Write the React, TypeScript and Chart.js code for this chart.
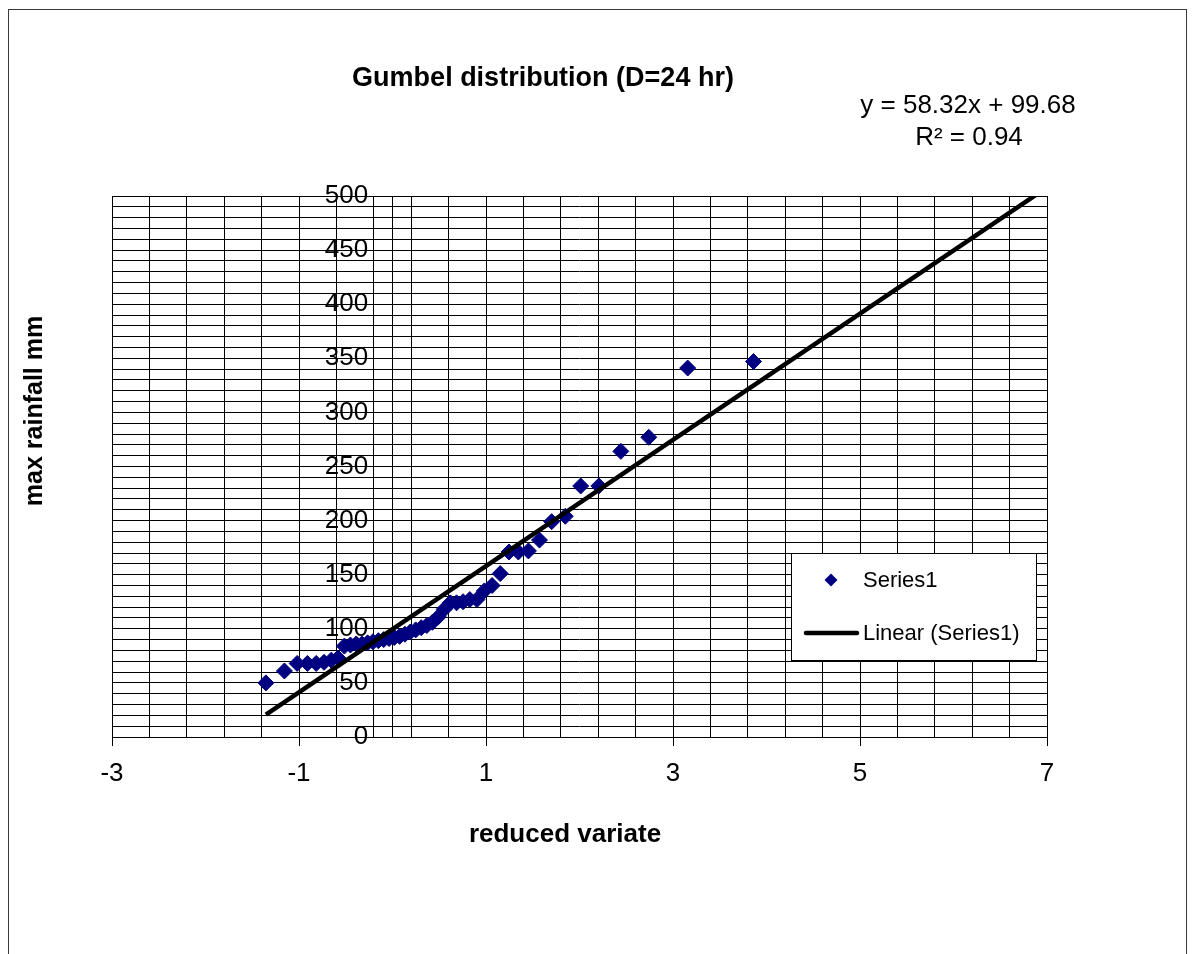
import { useEffect, useRef } from 'react';
import { Chart, registerables } from 'chart.js';

Chart.register(...registerables);

// ---- data ----
const REDUCED_VARIATE = [
  -1.354, -1.156, -1.02, -0.91, -0.816, -0.732, -0.655, -0.583, -0.515, -0.45,
  -0.388, -0.327, -0.267, -0.209, -0.151, -0.094, -0.037, 0.019, 0.076, 0.133,
  0.19, 0.248, 0.307, 0.367, 0.427, 0.489, 0.553, 0.618, 0.685, 0.755,
  0.827, 0.903, 0.982, 1.065, 1.152, 1.246, 1.346, 1.454, 1.572, 1.702,
  1.848, 2.013, 2.207, 2.442, 2.741, 3.157, 3.861,
];
const MAX_RAINFALL = [
  50, 61, 68, 68, 68, 69, 71, 73, 84, 85,
  86, 86, 87, 88, 89, 90, 91, 92, 93, 95,
  97, 99, 101, 103, 106, 111, 118, 124, 124, 125,
  127, 127, 135, 140, 151, 171, 171, 172, 182, 199,
  204, 232, 232, 264, 277, 341, 347,
];
const TREND_SLOPE = 58.32;
const TREND_INTERCEPT = 99.68;
const TREND_X_RANGE = [-1.354, 7];

const X_MIN = -3;
const X_MAX = 7;
const X_MINOR_STEP = 0.4;
const X_TICK_LABELS = [-3, -1, 1, 3, 5, 7];
const Y_MIN = 0;
const Y_MAX = 500;
const Y_MINOR_STEP = 10;
const Y_TICK_LABELS = [0, 50, 100, 150, 200, 250, 300, 350, 400, 450, 500];

const TITLE = 'Gumbel distribution (D=24 hr)';
const EQUATION_TEXT = 'y = 58.32x + 99.68';
const R2_TEXT = 'R² = 0.94';
const X_TITLE = 'reduced variate';
const Y_TITLE = 'max rainfall mm';
const SERIES_LABEL = 'Series1';
const TREND_LABEL = 'Linear (Series1)';

// ---- styles ----
const FONT = '"Liberation Sans", Arial, Helvetica, sans-serif';
const NAVY = '#000080';
const GRID = '#000000';
const CLEAR = 'rgba(0,0,0,0)';
const Y_LABEL_X = -0.26;

const near = (a: number, b: number) => Math.abs(a - b) < 1e-6;

const textPlugin = {
  id: 'gumbelText',
  afterDraw(chart: any) {
    const { ctx } = chart;
    ctx.save();
    ctx.fillStyle = '#000';
    ctx.textAlign = 'center';
    ctx.textBaseline = 'alphabetic';

    ctx.font = `bold 27px ${FONT}`;
    ctx.fillText(TITLE, 534, 76);

    ctx.font = `26px ${FONT}`;
    ctx.fillText(EQUATION_TEXT, 959, 103);
    ctx.fillText(R2_TEXT, 960, 135);

    ctx.font = `bold 26px ${FONT}`;
    ctx.fillText(X_TITLE, 556, 832);

    ctx.save();
    ctx.translate(33, 401);
    ctx.rotate(-Math.PI / 2);
    ctx.font = `bold 25px ${FONT}`;
    ctx.fillText(Y_TITLE, 0, 0);
    ctx.restore();

    // legend
    const bx = 782.5, by = 543.5, bw = 245, bh = 107;
    ctx.fillStyle = '#fff';
    ctx.fillRect(bx, by, bw, bh);
    ctx.strokeStyle = '#000';
    ctx.lineWidth = 1;
    ctx.strokeRect(bx, by, bw, bh);

    const scatterDs = chart.data.datasets[1];
    const lineDs = chart.data.datasets[0];
    const mx = 822, my = 570, r = 6.5;
    ctx.fillStyle = scatterDs.backgroundColor;
    ctx.beginPath();
    ctx.moveTo(mx - r, my);
    ctx.lineTo(mx, my - r);
    ctx.lineTo(mx + r, my);
    ctx.lineTo(mx, my + r);
    ctx.closePath();
    ctx.fill();

    ctx.strokeStyle = lineDs.borderColor;
    ctx.lineWidth = 4.5;
    ctx.lineCap = 'round';
    ctx.beginPath();
    ctx.moveTo(797, 623);
    ctx.lineTo(848, 623);
    ctx.stroke();

    ctx.fillStyle = '#000';
    ctx.textAlign = 'left';
    ctx.textBaseline = 'middle';
    ctx.font = `22px ${FONT}`;
    ctx.fillText(scatterDs.label, 854, 571);
    ctx.fillText(lineDs.label, 854, 624);
    ctx.restore();
  },
};

export default function App() {
  const ref = useRef<HTMLCanvasElement>(null);

  useEffect(() => {
    if (!ref.current) return;
    const points = REDUCED_VARIATE.map((x, i) => ({ x, y: MAX_RAINFALL[i] }));
    const trend = TREND_X_RANGE.map((x) => ({ x, y: TREND_SLOPE * x + TREND_INTERCEPT }));

    const chart = new Chart(ref.current, {
      type: 'scatter',
      data: {
        datasets: [
          {
            label: TREND_LABEL,
            data: trend,
            showLine: true,
            borderColor: '#000',
            borderWidth: 4.5,
            pointRadius: 0,
            pointHoverRadius: 0,
            fill: false,
            clip: 0,
            xAxisID: 'x',
            yAxisID: 'y',
          } as any,
          {
            label: SERIES_LABEL,
            data: points,
            pointStyle: 'rectRot',
            pointRadius: 8,
            pointHoverRadius: 8,
            backgroundColor: NAVY,
            borderColor: NAVY,
            borderWidth: 1,
            xAxisID: 'x',
            yAxisID: 'y',
          } as any,
        ],
      },
      options: {
        responsive: false,
        animation: false,
        events: [],
        layout: { padding: { left: 103, right: 139, top: 186, bottom: 163 } },
        plugins: {
          legend: { display: false },
          tooltip: { enabled: false },
          title: { display: false },
        },
        scales: {
          x: {
            type: 'linear',
            position: 'bottom',
            min: X_MIN,
            max: X_MAX,
            afterFit: (s: any) => { s.height = 60; },
            ticks: {
              stepSize: X_MINOR_STEP,
              autoSkip: false,
              maxRotation: 0,
              minRotation: 0,
              padding: 12,
              color: '#000',
              font: { family: FONT, size: 26 },
              callback: (v: any) => {
                const hit = X_TICK_LABELS.find((l) => near(l, Number(v)));
                return hit === undefined ? '' : String(hit);
              },
            },
            grid: {
              color: GRID,
              lineWidth: 1,
              tickLength: 9,
              tickColor: (c: any) => (X_TICK_LABELS.some((l) => near(l, c.tick.value)) ? '#000' : CLEAR),
            },
            border: { display: true, color: '#000', width: 1 },
          },
          y: {
            type: 'linear',
            axis: 'y',
            position: { x: 0 },
            min: Y_MIN,
            max: Y_MAX,
            afterFit: (s: any) => { s.width = 0; },
            ticks: { stepSize: Y_MINOR_STEP, autoSkip: false, display: false },
            grid: {
              color: GRID,
              lineWidth: 1,
              tickLength: 9,
              tickColor: (c: any) => (Y_TICK_LABELS.some((l) => near(l, c.tick.value)) ? '#000' : CLEAR),
            },
            border: { display: true, color: '#000', width: 1 },
          },
          yLabels: {
            type: 'linear',
            axis: 'y',
            position: { x: Y_LABEL_X },
            min: Y_MIN,
            max: Y_MAX,
            afterFit: (s: any) => { s.width = 0; },
            afterBuildTicks: (s: any) => { s.ticks = Y_TICK_LABELS.map((value) => ({ value })); },
            ticks: {
              autoSkip: false,
              color: '#000',
              font: { family: FONT, size: 26 },
            },
            grid: { display: false },
            border: { display: false },
          },
        } as any,
      },
      plugins: [textPlugin],
    });
    return () => chart.destroy();
  }, []);

  return (
    <div
      style={{
        position: 'fixed',
        left: 8,
        top: 9,
        width: 1177,
        height: 960,
        borderLeft: '1px solid #3a3a3a',
        borderTop: '1px solid #3a3a3a',
        borderRight: '1px solid #3a3a3a',
        background: '#fff',
      }}
    >
      <canvas ref={ref} width={1177} height={950} style={{ display: 'block' }} />
    </div>
  );
}
